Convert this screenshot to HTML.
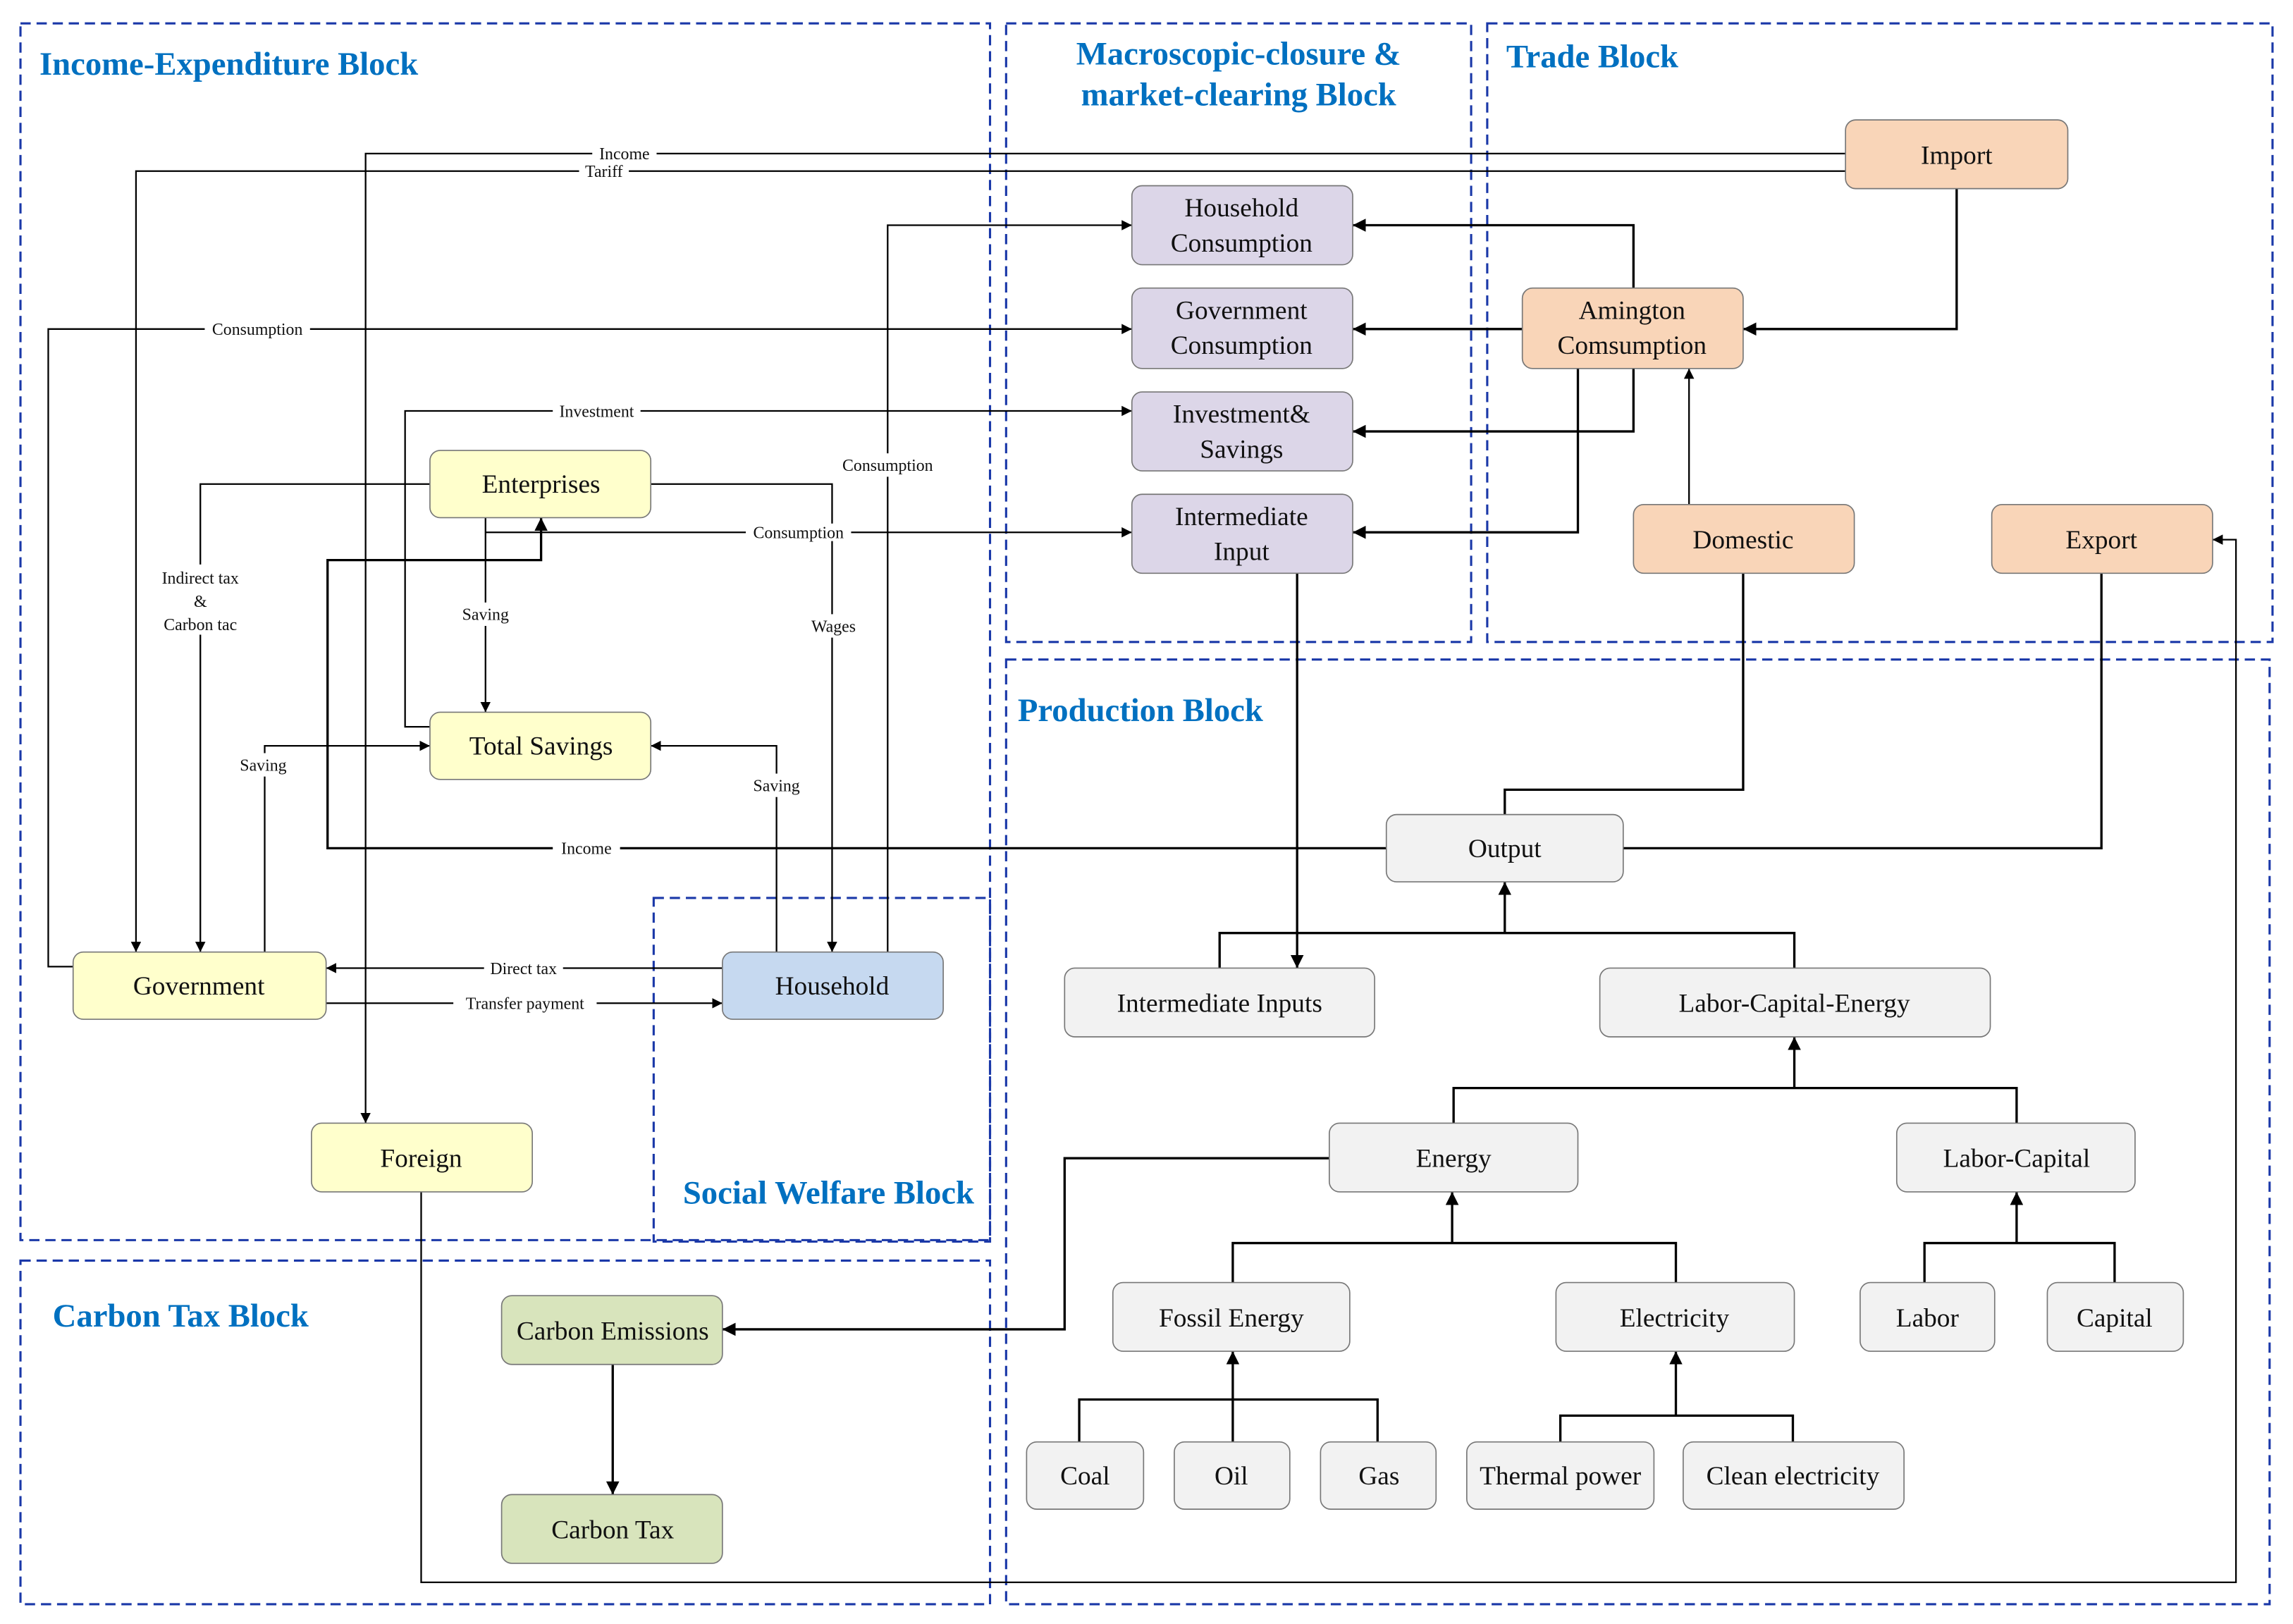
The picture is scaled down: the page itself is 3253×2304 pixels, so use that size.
<!DOCTYPE html>
<html><head><meta charset="utf-8"><style>
html,body{margin:0;padding:0;background:#fff;}
svg{display:block;}
text{font-family:"Liberation Serif",serif;}
.n{font-size:18px;text-anchor:middle;fill:#111;}
.l{font-size:11.5px;text-anchor:middle;fill:#111;}
.t{font-size:22.5px;font-weight:bold;fill:#0070c0;}
.b{fill:none;stroke:#1a38a8;stroke-width:1.5;stroke-dasharray:7,4;}
.c{fill:none;stroke:#000;stroke-width:1.6;}
.thin{fill:none;stroke:#000;stroke-width:1.1;}
</style></head><body>
<svg width="3253" height="2304" viewBox="0 0 1568 1110.5" preserveAspectRatio="none" xmlns="http://www.w3.org/2000/svg">
<defs><marker id="a" viewBox="0 0 10 10" refX="10" refY="5" markerWidth="7" markerHeight="7" orient="auto" markerUnits="userSpaceOnUse"><path d="M0,0L10,5L0,10z" fill="#000"/></marker>
<marker id="s" viewBox="0 0 10 10" refX="10" refY="5" markerWidth="9" markerHeight="9" orient="auto" markerUnits="userSpaceOnUse"><path d="M0,0L10,5L0,10z" fill="#000"/></marker></defs>
<rect width="1568" height="1110.5" fill="#fff"/>
<rect class="b" x="14" y="16" width="663" height="832"/>
<rect class="b" x="688" y="16" width="318" height="423"/>
<rect class="b" x="1017" y="16" width="537" height="423"/>
<rect class="b" x="688" y="451" width="864" height="646"/>
<rect class="b" x="14" y="862" width="663" height="235"/>
<rect class="b" x="447" y="614" width="230" height="235"/>
<text class="t" x="27" y="51">Income-Expenditure Block</text>
<text class="t" x="847" y="44" text-anchor="middle">Macroscopic-closure &amp;</text>
<text class="t" x="847" y="72" text-anchor="middle">market-clearing Block</text>
<text class="t" x="1030" y="46">Trade Block</text>
<text class="t" x="696" y="493">Production Block</text>
<text class="t" x="36" y="907">Carbon Tax Block</text>
<text class="t" x="467" y="823">Social Welfare Block</text>
<g class="thin">
<path d="M1262,105H250V768" marker-end="url(#a)"/>
<path d="M1262,117H93V651" marker-end="url(#a)"/>
<path d="M50,661H33V225H774" marker-end="url(#a)"/>
<path d="M294,497H277V281H774" marker-end="url(#a)"/>
<path d="M294,331H137V651" marker-end="url(#a)"/>
<path d="M445,331H569V651" marker-end="url(#a)"/>
<path d="M332,354V487" marker-end="url(#a)"/>
<path d="M332,364H774" marker-end="url(#a)"/>
<path d="M181,651V510H294" marker-end="url(#a)"/>
<path d="M607,651V154H774" marker-end="url(#a)"/>
<path d="M531,651V510H445" marker-end="url(#a)"/>
<path d="M494,662H223" marker-end="url(#a)"/>
<path d="M223,686H494" marker-end="url(#a)"/>
<path d="M288,815V1082H1529V369H1513" marker-end="url(#a)"/>
<path d="M1155,345V252" marker-end="url(#a)"/>
</g>
<g class="c">
<path d="M948,580H224V383H370V354" marker-end="url(#s)"/>
<path d="M1117,197V154H925" marker-end="url(#s)"/>
<path d="M1041,225H925" marker-end="url(#s)"/>
<path d="M1117,252V295H925" marker-end="url(#s)"/>
<path d="M1079,252V364H925" marker-end="url(#s)"/>
<path d="M1338,129V225H1192" marker-end="url(#s)"/>
<path d="M1192,392V540H1029V557"/>
<path d="M1110,580H1437V392"/>
<path d="M887,392V662" marker-end="url(#s)"/>
<path d="M834,662V638H1227V662"/>
<path d="M1029,638V603" marker-end="url(#s)"/>
<path d="M994,768V744H1379V768"/>
<path d="M1227,744V709" marker-end="url(#s)"/>
<path d="M843,877V850H1146V877"/>
<path d="M993,850V815" marker-end="url(#s)"/>
<path d="M1316,877V850H1446V877"/>
<path d="M1379,850V815" marker-end="url(#s)"/>
<path d="M738,986V957H942V986"/>
<path d="M843,986V924" marker-end="url(#s)"/>
<path d="M1067,986V968H1226V986"/>
<path d="M1146,968V924" marker-end="url(#s)"/>
<path d="M909,792H728V909H494" marker-end="url(#s)"/>
<path d="M419,933V1022" marker-end="url(#s)"/>
</g>
<g class="l">
<rect x="405" y="99" width="44" height="12" fill="#fff"/><text x="427" y="109">Income</text>
<rect x="396" y="111" width="34" height="12" fill="#fff"/><text x="413" y="121">Tariff</text>
<rect x="140" y="219" width="72" height="12" fill="#fff"/><text x="176" y="229">Consumption</text>
<rect x="378" y="275" width="60" height="12" fill="#fff"/><text x="408" y="285">Investment</text>
<rect x="510" y="358" width="72" height="12" fill="#fff"/><text x="546" y="368">Consumption</text>
<rect x="570" y="310" width="74" height="16" fill="#fff"/><text x="607" y="322">Consumption</text>
<rect x="100" y="386" width="74" height="48" fill="#fff"/><text x="137" y="399">Indirect tax</text><text x="137" y="415">&amp;</text><text x="137" y="431">Carbon tac</text>
<rect x="310" y="412" width="44" height="16" fill="#fff"/><text x="332" y="424">Saving</text>
<rect x="549" y="420" width="42" height="16" fill="#fff"/><text x="570" y="432">Wages</text>
<rect x="159" y="515" width="44" height="16" fill="#fff"/><text x="180" y="527">Saving</text>
<rect x="509" y="529" width="44" height="16" fill="#fff"/><text x="531" y="541">Saving</text>
<rect x="378" y="574" width="46" height="12" fill="#fff"/><text x="401" y="584">Income</text>
<rect x="331" y="656" width="54" height="12" fill="#fff"/><text x="358" y="666">Direct tax</text>
<rect x="310" y="680" width="98" height="12" fill="#fff"/><text x="359" y="690">Transfer payment</text>
</g>
<g stroke="#777" stroke-width="0.8">
<rect x="774" y="127" width="151" height="54" rx="7" fill="#dcd6e8"/>
<rect x="774" y="197" width="151" height="55" rx="7" fill="#dcd6e8"/>
<rect x="774" y="268" width="151" height="54" rx="7" fill="#dcd6e8"/>
<rect x="774" y="338" width="151" height="54" rx="7" fill="#dcd6e8"/>
<rect x="1262" y="82" width="152" height="47" rx="7" fill="#f9d5b8"/>
<rect x="1041" y="197" width="151" height="55" rx="7" fill="#f9d5b8"/>
<rect x="1117" y="345" width="151" height="47" rx="7" fill="#f9d5b8"/>
<rect x="1362" y="345" width="151" height="47" rx="7" fill="#f9d5b8"/>
<rect x="294" y="308" width="151" height="46" rx="7" fill="#ffffcc"/>
<rect x="294" y="487" width="151" height="46" rx="7" fill="#ffffcc"/>
<rect x="50" y="651" width="173" height="46" rx="7" fill="#ffffcc"/>
<rect x="213" y="768" width="151" height="47" rx="7" fill="#ffffcc"/>
<rect x="494" y="651" width="151" height="46" rx="7" fill="#c6d9f0"/>
<rect x="343" y="886" width="151" height="47" rx="7" fill="#d8e4bc"/>
<rect x="343" y="1022" width="151" height="47" rx="7" fill="#d8e4bc"/>
<g fill="#f2f2f2">
<rect x="948" y="557" width="162" height="46" rx="7"/>
<rect x="728" y="662" width="212" height="47" rx="7"/>
<rect x="1094" y="662" width="267" height="47" rx="7"/>
<rect x="909" y="768" width="170" height="47" rx="7"/>
<rect x="1297" y="768" width="163" height="47" rx="7"/>
<rect x="761" y="877" width="162" height="47" rx="7"/>
<rect x="1064" y="877" width="163" height="47" rx="7"/>
<rect x="1272" y="877" width="92" height="47" rx="7"/>
<rect x="1400" y="877" width="93" height="47" rx="7"/>
<rect x="702" y="986" width="80" height="46" rx="7"/>
<rect x="803" y="986" width="79" height="46" rx="7"/>
<rect x="903" y="986" width="79" height="46" rx="7"/>
<rect x="1003" y="986" width="128" height="46" rx="7"/>
<rect x="1151" y="986" width="151" height="46" rx="7"/>
</g></g>
<g class="n">
<text x="849" y="148">Household</text><text x="849" y="172">Consumption</text>
<text x="849" y="218">Government</text><text x="849" y="242">Consumption</text>
<text x="849" y="289">Investment&amp;</text><text x="849" y="313">Savings</text>
<text x="849" y="359">Intermediate</text><text x="849" y="383">Input</text>
<text x="1338" y="112">Import</text>
<text x="1116" y="218">Amington</text><text x="1116" y="242">Comsumption</text>
<text x="1192" y="375">Domestic</text>
<text x="1437" y="375">Export</text>
<text x="370" y="337">Enterprises</text>
<text x="370" y="516">Total Savings</text>
<text x="136" y="680">Government</text>
<text x="288" y="798">Foreign</text>
<text x="569" y="680">Household</text>
<text x="419" y="916">Carbon Emissions</text>
<text x="419" y="1052">Carbon Tax</text>
<text x="1029" y="586">Output</text>
<text x="834" y="692">Intermediate Inputs</text>
<text x="1227" y="692">Labor-Capital-Energy</text>
<text x="994" y="798">Energy</text>
<text x="1379" y="798">Labor-Capital</text>
<text x="842" y="907">Fossil Energy</text>
<text x="1145" y="907">Electricity</text>
<text x="1318" y="907">Labor</text>
<text x="1446" y="907">Capital</text>
<text x="742" y="1015">Coal</text>
<text x="842" y="1015">Oil</text>
<text x="943" y="1015">Gas</text>
<text x="1067" y="1015">Thermal power</text>
<text x="1226" y="1015">Clean electricity</text>
</g>
</svg>
</body></html>
